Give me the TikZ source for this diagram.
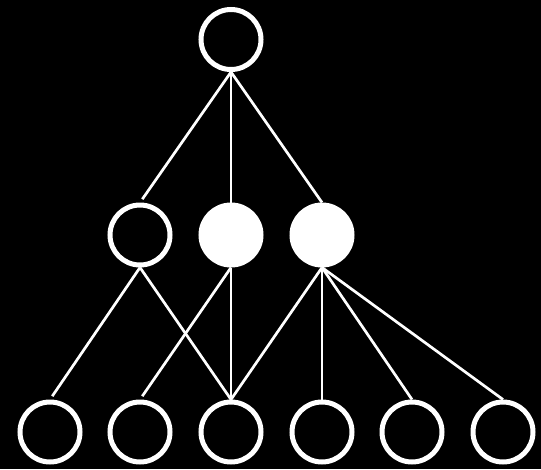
\documentclass[tikz,border=0pt]{standalone}
\begin{document}
\begin{tikzpicture}[x=1pt,y=-1pt,
  hollow/.style={circle,draw=white,line width=5pt,minimum size=60pt,inner sep=0pt},
  solid/.style={circle,draw=white,fill=white,line width=5pt,minimum size=60pt,inner sep=0pt},
  edge/.style={draw=white,line width=2.7pt},
  gap/.style={shorten >=4pt}]
\fill[black] (0,0) rectangle (541,469);
\useasboundingbox (0,0) rectangle (541,469);
\node[hollow] (t) at (231,39.5) {};
\node[hollow] (m1) at (140,235) {};
\node[solid] (m2) at (231,235) {};
\node[solid] (m3) at (322,235) {};
\node[hollow] (b1) at (50,432) {};
\node[hollow] (b2) at (140,432) {};
\node[hollow] (b3) at (231,432) {};
\node[hollow] (b4) at (322,432) {};
\node[hollow] (b5) at (412,432) {};
\node[hollow] (b6) at (503,432) {};
\draw[edge,gap] (t.south) -- (m1.north);
\draw[edge] (t.south) -- (m2.north);
\draw[edge] (t.south) -- (m3.north);
\draw[edge,gap] (m1.south) -- (b1.north);
\draw[edge] (m1.south) -- (b3.north);
\draw[edge,gap] (m2.south) -- (b2.north);
\draw[edge] (m2.south) -- (b3.north);
\draw[edge] (m3.south) -- (b3.north);
\draw[edge] (m3.south) -- (b4.north);
\draw[edge] (m3.south) -- (b5.north);
\draw[edge] (m3.south) -- (b6.north);
\end{tikzpicture}
\end{document}
